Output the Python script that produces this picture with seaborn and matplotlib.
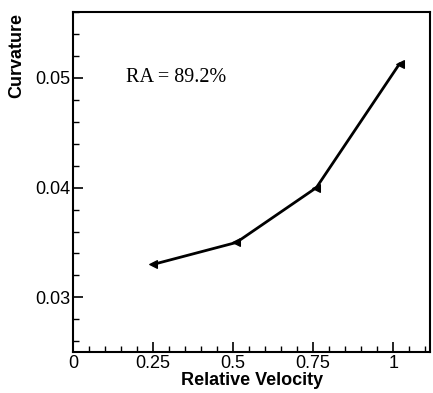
import seaborn as sns
import matplotlib.pyplot as plt
from matplotlib.ticker import MultipleLocator
import pandas as pd

# values
velocity = [0.25, 0.51, 0.76, 1.02]
curvature = [0.0330, 0.0350, 0.0400, 0.0513]
annotation = "RA = 89.2%"

df = pd.DataFrame({"Relative Velocity": velocity, "Curvature": curvature})

sns.set_theme(style="ticks")
plt.rcParams["font.family"] = ["Liberation Sans", "DejaVu Sans"]
plt.rcParams["text.color"] = "black"
plt.rcParams["axes.labelcolor"] = "black"

fig = plt.figure(figsize=(4.33, 3.93), dpi=100)
ax = fig.add_axes([0.169, 0.104, 0.824, 0.865])

sns.lineplot(
    data=df, x="Relative Velocity", y="Curvature",
    color="black", linewidth=2, marker="<", markersize=6,
    markeredgecolor="black", ax=ax,
)

ax.set_xlim(0, 1.115)
ax.set_ylim(0.025, 0.056)
ax.xaxis.set_major_locator(MultipleLocator(0.25))
ax.xaxis.set_minor_locator(MultipleLocator(0.05))
ax.yaxis.set_major_locator(MultipleLocator(0.01))
ax.yaxis.set_minor_locator(MultipleLocator(0.002))
ax.xaxis.set_major_formatter(plt.FuncFormatter(lambda v, p: f"{v:g}"))
ax.yaxis.set_major_formatter(plt.FuncFormatter(lambda v, p: f"{v:.2f}"))

ax.tick_params(axis="both", which="both", direction="in", top=False, right=False,
               colors="black", labelcolor="black", labelsize=13, pad=2)
ax.tick_params(axis="both", which="major", length=7, width=1.2)
ax.tick_params(axis="both", which="minor", length=4, width=1)

for s in ax.spines.values():
    s.set_color("black")
    s.set_linewidth(1.5)

ax.set_xlabel("Relative Velocity", fontsize=13, fontweight="bold", labelpad=0)
ax.set_ylabel("Curvature", fontsize=13, fontweight="bold")
ax.yaxis.set_label_coords(-0.135, 0.873)

ax.text(0.165, 0.05, annotation, fontsize=14.5, family="Liberation Serif",
        va="center", ha="left", color="black")

fig.savefig("out.png", dpi=100)
